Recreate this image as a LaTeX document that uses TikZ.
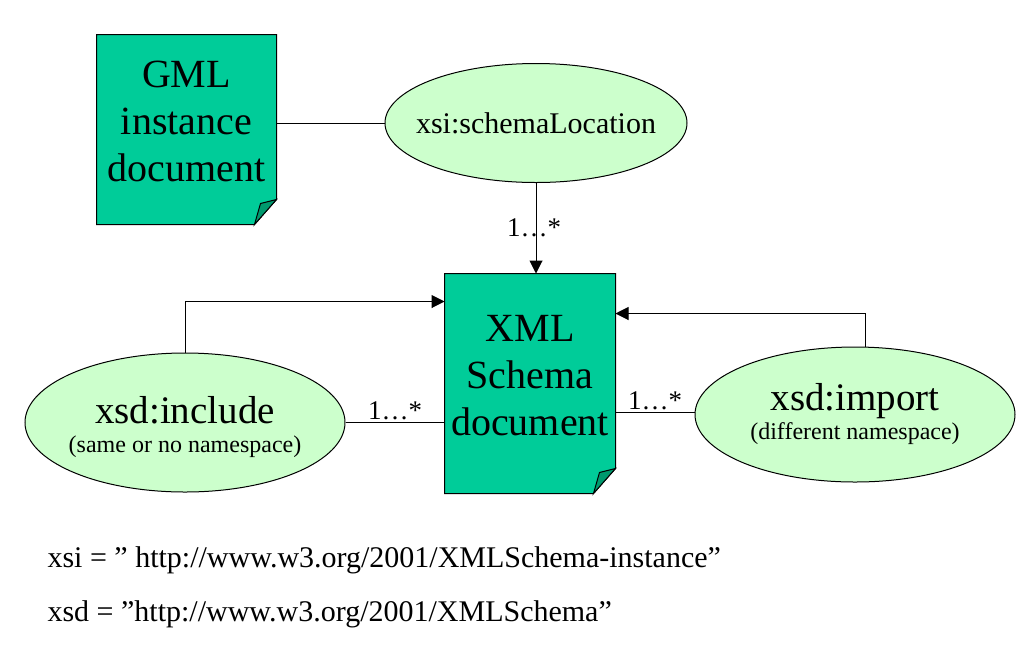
\documentclass[tikz,border=0pt]{standalone}
\usepackage{fontspec}
\setmainfont{Liberation Serif}
\usepackage{xcolor,tikz}
\usetikzlibrary{arrows.meta,positioning,shapes.geometric,calc}

\definecolor{doccol}{RGB}{0,204,153}
\definecolor{flapcol}{RGB}{0,153,110}
\definecolor{ellcol}{RGB}{204,255,204}

\tikzset{
  docbox/.style={inner sep=0pt,align=center,text depth=17pt,font=\fontsize{40}{47}\selectfont},
  elbox/.style={ellipse,draw,fill=ellcol,inner sep=0pt,align=center},
  bigtxt/.style={font=\fontsize{39}{29}\selectfont},
  arr/.style={-{Triangle[length=13pt,width=13pt]}},
  mult/.style={font=\fontsize{27}{30}\selectfont,inner sep=2pt},
  nstxt/.style={anchor=base west,font=\fontsize{30}{34}\selectfont,inner sep=0pt}
}
% folded page outline behind a document node
\newcommand{\docpage}[1]{%
  \draw[fill=doccol] (#1.north west) -- (#1.north east) -- ($(#1.south east)+(0,-25)$)
    -- ($(#1.south east)+(-22,0)$) -- (#1.south west) -- cycle;
  \draw[fill=flapcol] ($(#1.south east)+(-22,0)$) .. controls ($(#1.south east)+(-19,-10)$) ..
    ($(#1.south east)+(-16,-21)$) -- ($(#1.south east)+(0,-25)$) -- cycle;}

\begin{document}
\begin{tikzpicture}[x=1pt,y=-1pt,line width=1pt]
\useasboundingbox[fill=white] (0,0) rectangle (1036,649);
% document pages
\node[docbox,minimum width=179pt,minimum height=189pt] (gml) at (186.5,129.5){};
\node[docbox,minimum width=170pt,minimum height=219pt] (xml) at (530,383.5){};
\docpage{gml}
\docpage{xml}
\node[docbox] (gmltxt) at (gml){GML\\instance\\document};
\node[docbox] (xmltxt) at (xml){XML\\Schema\\document};
% ellipses
\node[elbox,inner xsep=-14pt,minimum width=302pt,minimum height=119pt,font=\fontsize{30}{34}\selectfont] (loc) at (536,123){xsi:schemaLocation};
\node[elbox,bigtxt,inner xsep=-6pt,minimum width=320pt,minimum height=139pt] (inc) at (185,422.5)
  {\rule{0pt}{37pt}xsd:include\\{\fontsize{24}{29}\selectfont (same or no namespace)}};
\node[elbox,bigtxt,minimum width=320pt,minimum height=135pt] (imp) at (855,414.5)
  {xsd:import\\{\fontsize{24}{29}\selectfont (different namespace)}};
% connectors
\draw (gml.east |- loc.west) -- (loc.west);
\draw[arr] (loc.south) -- node[mult,xshift=-2pt]{1\ldots*} (loc.south |- xml.north);
\draw[arr] (inc.north) |- ([yshift=-28pt]xml.north west);
\draw (inc.east) -- node[mult,above]{1\ldots*} (inc.east -| xml.west);
\draw[arr] ([xshift=10pt]imp.north) |- ([yshift=-40pt]xml.north east);
\draw ([yshift=2pt]imp.west) -- node[mult,above]{1\ldots*} ([yshift=2pt]imp.west -| xml.east);
% namespaces
\node[nstxt] (nsxsi) at (47,567){xsi = ” http://www.w3.org/2001/XMLSchema-instance”};
\node[nstxt] (nsxsd) at (47,621){xsd = ”http://www.w3.org/2001/XMLSchema”};
\end{tikzpicture}
\end{document}
